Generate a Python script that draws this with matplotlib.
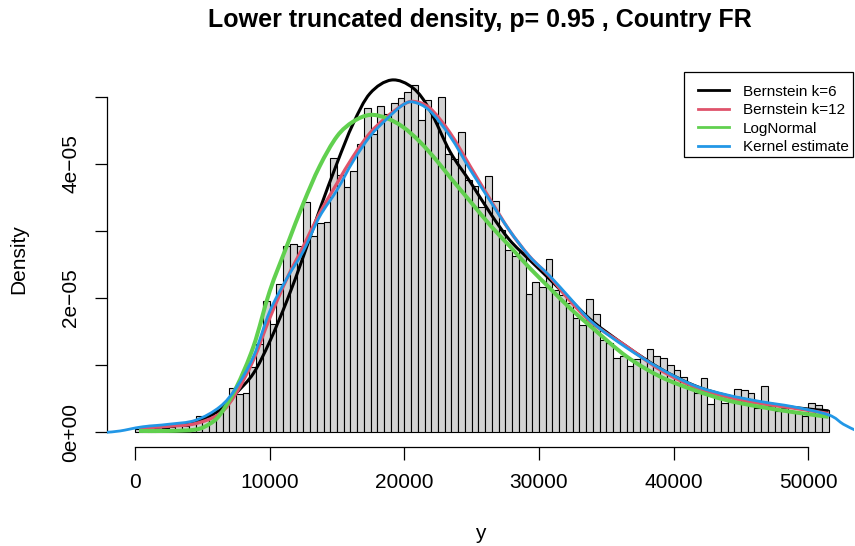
import numpy as np
import matplotlib
matplotlib.use('Agg')
import matplotlib.pyplot as plt
from matplotlib.path import Path
from matplotlib.patches import PathPatch, Rectangle
from matplotlib.lines import Line2D

plt.rcParams['font.family'] = ['Liberation Sans', 'DejaVu Sans']

# histogram: bins of 500 starting at 0, densities in units of 1e-5
bin_start = 0
bin_width = 500
hist_dens = [
    0.05, 0.09, 0.11, 0.08, 0.07, 0.08, 0.09, 0.10, 0.12, 0.25,
    0.19, 0.26, 0.33, 0.42, 0.66, 0.57, 0.58, 0.98, 1.32, 1.96,
    1.61, 2.21, 2.78, 2.80, 2.78, 3.43, 2.93, 3.12, 3.14, 4.09,
    3.83, 3.66, 3.89, 4.30, 4.83, 4.44, 4.86, 4.75, 4.91, 4.98,
    5.07, 5.17, 4.65, 4.95, 4.70, 5.00, 4.15, 4.08, 4.47, 3.76,
    3.67, 3.36, 3.82, 3.45, 3.01, 2.72, 2.62, 2.69, 2.06, 2.24,
    2.17, 2.58, 2.12, 2.04, 1.93, 1.70, 1.60, 1.99, 1.76, 1.38,
    1.33, 1.10, 1.13, 0.99, 1.09, 1.10, 1.24, 1.13, 1.10, 1.01,
    0.93, 0.83, 0.67, 0.58, 0.81, 0.42, 0.53, 0.44, 0.47, 0.64,
    0.63, 0.59, 0.36, 0.69, 0.39, 0.31, 0.36, 0.31, 0.28, 0.24,
    0.43, 0.41, 0.33,
]

# fitted curves (x, density in 1e-5)
bern6_x = [300, 2500, 4500, 6300, 7500, 8800, 10000, 11300, 12500, 13700,
           15000, 16200, 17450, 19050, 20650, 21900, 23400, 24900, 26400,
           27800, 29300, 30800, 32300, 34000, 36500, 39000, 41500, 43900,
           46400, 48900, 51500]
bern6_y = [0.06, 0.09, 0.16, 0.33, 0.58, 0.88, 1.35, 1.97, 2.62, 3.31,
           4.01, 4.60, 5.05, 5.25, 5.13, 4.80, 4.18, 3.73, 3.26,
           2.87, 2.57, 2.28, 1.98, 1.65, 1.28, 0.95, 0.70, 0.55,
           0.45, 0.37, 0.32]

bern12_x = [300, 2500, 4500, 6300, 7500, 8800, 10000, 11300, 12500, 13700,
            15000, 16200, 17450, 18700, 19900, 20700, 21900, 23400, 24900,
            26400, 27800, 29300, 30800, 32300, 34000, 36500, 39000, 41500,
            43900, 46400, 48900, 51500]
bern12_y = [0.06, 0.09, 0.13, 0.28, 0.58, 1.08, 1.70, 2.30, 2.77, 3.26,
            3.71, 4.11, 4.46, 4.70, 4.88, 4.93, 4.83, 4.46, 3.96,
            3.46, 3.01, 2.62, 2.32, 1.96, 1.62, 1.28, 0.93, 0.68,
            0.53, 0.43, 0.36, 0.28]

lnorm_x = [300, 2500, 4500, 5500, 6300, 7500, 8800, 10000, 11300, 12500,
           13700, 15000, 16200, 17450, 18700, 19900, 21150, 22400, 23400,
           24900, 26400, 27800, 29300, 30800, 32300, 34000, 36500, 39000,
           41500, 43900, 46400, 48900, 51500]
lnorm_y = [0.02, 0.02, 0.04, 0.12, 0.26, 0.66, 1.28, 2.10, 2.79, 3.41,
           3.96, 4.41, 4.63, 4.73, 4.68, 4.55, 4.33, 4.05, 3.80,
           3.44, 3.08, 2.78, 2.45, 2.15, 1.85, 1.55, 1.13, 0.83,
           0.63, 0.48, 0.38, 0.30, 0.23]

kern_x = [-2100, -1100, 500, 2500, 4500, 6300, 7500, 8800, 10000, 11300,
          12500, 13700, 15000, 16200, 17450, 18700, 19900, 20700, 21900,
          23400, 24900, 26400, 27800, 29300, 30800, 32300, 34000, 36500,
          39000, 41500, 43900, 46400, 48900, 51500, 52600, 53500]
kern_y = [0.0, 0.02, 0.08, 0.12, 0.18, 0.38, 0.66, 1.13, 1.80, 2.30,
          2.70, 3.21, 3.61, 4.04, 4.41, 4.67, 4.88, 4.92, 4.79,
          4.41, 3.91, 3.44, 3.01, 2.62, 2.33, 2.00, 1.63, 1.26,
          0.95, 0.70, 0.56, 0.46, 0.38, 0.26, 0.12, 0.03]

x_ticks = [0, 10000, 20000, 30000, 40000, 50000]
y_ticks = [0, 1e-5, 2e-5, 3e-5, 4e-5, 5e-5]
y_labels = ['0e+00', '', '2e\u221205', '', '4e\u221205', '']

scale = 1e-5


def smooth_path(xs, ys):
    # catmull-rom through the read points, drawn as bezier segments
    p = np.column_stack([xs, np.array(ys) * scale])
    pts = np.vstack([p[0], p, p[-1]])
    verts = [p[0]]
    codes = [Path.MOVETO]
    for i in range(1, len(pts) - 2):
        p0, p1, p2, p3 = pts[i - 1], pts[i], pts[i + 1], pts[i + 2]
        verts += [p1 + (p2 - p0) / 6.0, p2 - (p3 - p1) / 6.0, p2]
        codes += [Path.CURVE4] * 3
    return Path(verts, codes)


fig = plt.figure(figsize=(8.55, 5.46), dpi=100)
ax = fig.add_axes([0.1248, 0.1819, 0.8740, 0.6868])

edges = bin_start + bin_width * np.arange(len(hist_dens))
ax.bar(edges, np.array(hist_dens) * scale, width=bin_width, align='edge',
       color='#D3D3D3', edgecolor='black', linewidth=0.8, zorder=1)

curves = [
    (bern6_x, bern6_y, 'black', 2.2, 'Bernstein k=6'),
    (bern12_x, bern12_y, '#DF536B', 2.4, 'Bernstein k=12'),
    (lnorm_x, lnorm_y, '#61D04F', 2.9, 'LogNormal'),
    (kern_x, kern_y, '#2297E6', 2.0, 'Kernel estimate'),
]
handles = []
for k, (cx, cy, col, lw, lab) in enumerate(curves):
    ax.add_patch(PathPatch(smooth_path(cx, cy), fill=False, edgecolor=col,
                           lw=lw, zorder=3 + k * 0.1, capstyle='butt'))
    handles.append(Line2D([], [], color=col, lw=2.0, label=lab))

ax.set_xlim(-2101, 53390)
ax.set_ylim(-0.2146e-5, 5.374e-5)

for s in ['top', 'right']:
    ax.spines[s].set_visible(False)
ax.spines['left'].set_bounds(0, 5e-5)
ax.spines['bottom'].set_bounds(0, 50000)
for s in ['left', 'bottom']:
    ax.spines[s].set_linewidth(0.9)

ax.set_xticks(x_ticks)
ax.set_xticklabels([str(t) for t in x_ticks])
ax.set_yticks(y_ticks)
ax.set_yticklabels(y_labels, rotation=90, va='center')
ax.tick_params(axis='both', direction='out', length=9, width=0.9,
               labelsize=15, pad=10)

ax.set_xlabel('y', fontsize=15, labelpad=23)
ax.set_ylabel('Density', fontsize=15, labelpad=24)
fig.text(480 / 855, 1 - 20 / 546,
         'Lower truncated density, p= 0.95 , Country FR',
         fontsize=18, fontweight='bold', ha='center', va='center')

# legend box drawn like R's (tight on the right)
ax.add_patch(Rectangle((684 / 855, 1 - 157 / 546), 169 / 855, 85 / 546,
                       transform=fig.transFigure, facecolor='white',
                       edgecolor='black', lw=0.9, zorder=4.5,
                       clip_on=False))
leg = ax.legend(handles=handles, loc='center left',
                bbox_to_anchor=(698 / 855, 1 - 119.5 / 546),
                bbox_transform=fig.transFigure, fontsize=11,
                frameon=False, borderpad=0, borderaxespad=0,
                handlelength=2.03, handletextpad=0.9, labelspacing=0.3)
leg.set_zorder(5)

fig.savefig('out.png', dpi=100)
